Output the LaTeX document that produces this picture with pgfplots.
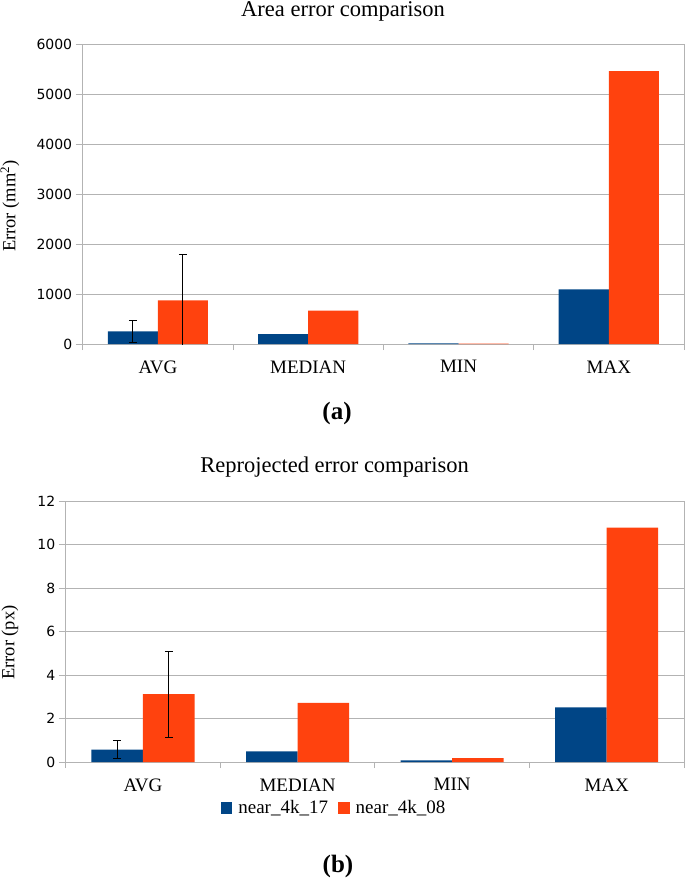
\documentclass[border=0pt]{standalone}
\usepackage{fontspec}
\setmainfont{Liberation Serif}
\newfontfamily\sansnum{DejaVu Sans}
\usepackage{pgfplots}
\pgfplotsset{compat=1.18}
\definecolor{lblue}{HTML}{004586}
\definecolor{lorange}{HTML}{FF420E}
\definecolor{lgrid}{HTML}{B3B3B3}
\pgfplotsset{
  mybars/.style={
    scale only axis,
    ybar,
    bar width=0.3333,
    xmin=-0.5, xmax=3.5,
    ymin=0,
    xtick={0,1,2,3},
    xticklabels={AVG,MEDIAN,MIN,MAX},
    major x tick style={draw=none},
    minor xtick={-0.5,0.5,1.5,2.5,3.5},
    minor tick length=6pt,
    tick align=outside,
    tick pos=left,
    every tick/.style={lgrid, line width=0.8pt},
    y tick style={lgrid, line width=0.8pt},
    major tick length=7pt,
    axis line style={lgrid, line width=0.8pt},
    ymajorgrids,
    grid style={lgrid, line width=0.8pt},
    yticklabel style={font=\sansnum\fontsize{14}{14}\selectfont, text=black},
    /pgf/number format/assume math mode=true,
    /pgf/number format/1000 sep={},
    xticklabel style={font=\fontsize{19}{19}\selectfont, text=black, yshift=-6pt},
    ylabel style={font=\fontsize{18.5}{18.5}\selectfont},
    error bars/error bar style={black, line width=1pt},
    error bars/error mark options={rotate=90, mark size=4pt, line width=1pt, black},
  }
}
\begin{document}
\begin{tikzpicture}
\path[use as bounding box] (0pt,0pt) rectangle (685pt,-882pt);
% Top chart
\begin{axis}[mybars,
  at={(82.7pt,-344pt)}, anchor=south west,
  width=601.3pt, height=299.3pt,
  ymax=6000, ytick={0,1000,...,6000},
  ylabel={Error (mm\textsuperscript{2})},
  ylabel style={at={(axis description cs:-0.1209,0.461)}, anchor=center},
  title={Area error comparison},
  every axis title/.style={at={(axis description cs:0.433,1)}, anchor=base, yshift=28pt,
    font=\fontsize{22.5}{22.5}\selectfont},
]
\addplot[fill=lblue, draw=none, bar shift=-0.16667,
  error bars/.cd, y dir=both, y explicit]
  coordinates {(0,254) +- (0,221) (1,200) (2,12) (3,1096)};
\addplot[fill=lorange, draw=none, bar shift=0.16667,
  error bars/.cd, y dir=both, y explicit]
  coordinates {(0,875) +- (0,910) (1,667) (2,10) (3,5471)};
\end{axis}
\node[font=\bfseries\fontsize{25}{25}\selectfont] at (337pt,-413pt) {(a)};
% Bottom chart
\begin{axis}[mybars,
  at={(65.7pt,-762pt)}, anchor=south west,
  width=618.3pt, height=260.7pt,
  ymax=12, ytick={0,2,...,12},
  ylabel={Error (px)},
  ylabel style={at={(axis description cs:-0.0901,0.458)}, anchor=center},
  title={Reprojected error comparison},
  every axis title/.style={at={(axis description cs:0.435,1)}, anchor=base, yshift=28.6pt,
    font=\fontsize{22.5}{22.5}\selectfont},
  legend columns=2,
  legend style={draw=none, fill=none, at={(axis description cs:0.434,-0.176)}, anchor=center,
    font=\fontsize{19}{19}\selectfont, column sep=4pt,
    /tikz/every even column/.append style={column sep=8pt}},
  legend image code/.code={\fill[#1] (0pt,-5.8pt) rectangle (11.7pt,5.8pt);},
]
\addplot[fill=lblue, draw=none, bar shift=-0.16667,
  error bars/.cd, y dir=both, y explicit]
  coordinates {(0,0.57) +- (0,0.43) (1,0.49) (2,0.08) (3,2.52)};
\addplot[fill=lorange, draw=none, bar shift=0.16667,
  error bars/.cd, y dir=both, y explicit]
  coordinates {(0,3.12) +- (0,1.98) (1,2.72) (2,0.18) (3,10.79)};
\legend{near\_4k\_17, near\_4k\_08}
\end{axis}
\node[font=\bfseries\fontsize{25}{25}\selectfont] at (338pt,-866pt) {(b)};
\end{tikzpicture}
\end{document}
